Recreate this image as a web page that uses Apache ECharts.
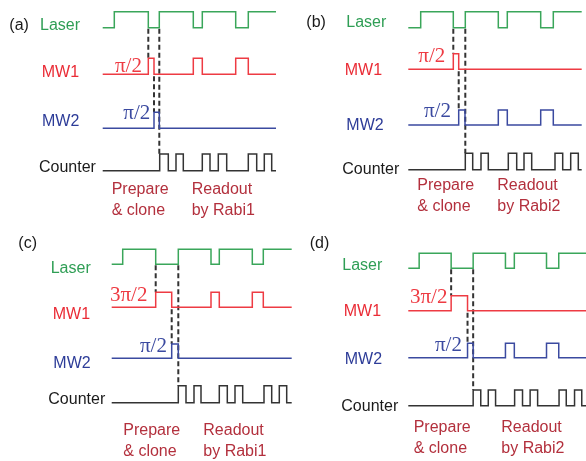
<!DOCTYPE html>
<html><head><meta charset="utf-8">
<script src="https://cdn.jsdelivr.net/npm/echarts@6/dist/echarts.min.js"></script>
<style>html,body{margin:0;padding:0;background:#fff}#c{width:586px;height:461px}</style>
</head><body><div id="c"></div>
<script>
// ---------- DATA (time units; high intervals [start,end]) ----------
const panelNames = ['(a)', '(b)', '(c)', '(d)'];
const channelNames = ['Laser', 'MW1', 'MW2', 'Counter'];
const durations = [173.3, 173.4, 180, 180];

const laserA = [[11.6, 45.6], [56.6, 90.6], [99.6, 133], [145.6, 173.3]];
const mw1A = [[45.6, 51.3], [90.6, 99.6], [133, 145.6]];
const mw2A = [[51.3, 56.6]];
const counterA = [[57, 65.6], [73.3, 80.6], [99.6, 107.3], [115.6, 124], [145.6, 154], [161.6, 169]];

const laserB = [[12.4, 45], [57, 90], [99, 132.4], [145, 173.4]];
const mw1B = [[45, 50.4]];
const mw2B = [[50.4, 56.7], [90, 99], [132.4, 145]];
const counterB = [[57, 64.4], [72.7, 80], [100, 108.4], [115.7, 123.4], [146.7, 154.4], [162.4, 170]];

const laserC = [[11, 44], [66.6, 99.3], [107.6, 140.6], [151.6, 180]];
const mw1C = [[44, 60], [99.3, 107.6], [140.6, 151.6]];
const mw2C = [[60, 66.6]];
const counterC = [[66.6, 74.3], [82.3, 89.3], [107.6, 115.6], [123.3, 131], [152.3, 160], [167.6, 175]];

const laserD = [[11, 43.4], [65.7, 98.4], [107.4, 140], [152.4, 180]];
const mw1D = [[43.4, 60]];
const mw2D = [[60, 65.7], [98.4, 107.4], [140, 152.4]];
const counterD = [[65.7, 73.4], [81, 88.4], [107.7, 115.7], [123.4, 131], [152.7, 160], [168.4, 175.7]];

const mw1PulseLabels = ['π/2', 'π/2', '3π/2', '3π/2'];
const mw2PulseLabels = ['π/2', 'π/2', 'π/2', 'π/2'];
const captionPrepare = ['Prepare\n& clone', 'Prepare\n& clone', 'Prepare\n& clone', 'Prepare\n& clone'];
const captionReadout = ['Readout\nby Rabi1', 'Readout\nby Rabi2', 'Readout\nby Rabi1', 'Readout\nby Rabi2'];

// ---------- LAYOUT (positions / styles) ----------
const panels = [
  { ch: [laserA, mw1A, mw2A, counterA], x0: 102.7,
    rows: [[27.7, 11.7], [74.3, 58.3], [128.3, 112.3], [170.7, 154]],
    letter: [9.3, 25.5], names: [[40, 25.5], [41.7, 72.7], [42, 121.2], [39, 167.7]],
    p1: [115, 66.7], p2: [123.3, 113.3], capL: [111.7, 189.4], capR: [191.7, 189.4] },
  { ch: [laserB, mw1B, mw2B, counterB], x0: 408.3,
    rows: [[27.7, 11.7], [69.3, 53.8], [125, 110], [169.7, 153.3]],
    letter: [306.3, 22.5], names: [[346.3, 22.5], [344.7, 70.8], [346.3, 125.8], [342.3, 170]],
    p1: [418.3, 56.2], p2: [424, 111.7], capL: [417.3, 185.2], capR: [497.3, 185.2] },
  { ch: [laserC, mw1C, mw2C, counterC], x0: 111.7,
    rows: [[264.3, 249.3], [307.3, 292.3], [358.3, 344], [402.7, 385.7]],
    letter: [18.3, 243.5], names: [[50.7, 268.3], [52.7, 315], [53.3, 364], [48.3, 399.3]],
    p1: [110, 295.8], p2: [140, 346.7], capL: [123.3, 430.8], capR: [203.3, 430.8] },
  { ch: [laserD, mw1D, mw2D, counterD], x0: 408.3,
    rows: [[268.3, 253.3], [310.7, 295.7], [357.7, 343.3], [405.7, 390]],
    letter: [309.7, 244], names: [[342.3, 265.2], [343.7, 311.7], [344.7, 360], [341.3, 407]],
    p1: [410, 297.5], p2: [435, 345.8], capL: [413.7, 427.8], capR: [501.3, 427.8] }
];
const lineColors = ['#3aa65a', '#ee3b43', '#3b4aa0', '#333333'];
const textColors = ['#2f9e55', '#ea2c36', '#2d3c98', '#1a1a1a'];
const captionColor = '#b3303d';
const sans = "'Liberation Sans', Arial, sans-serif";
const serif = "'Liberation Serif', 'Times New Roman', serif";

function stepPoints(intervals, D, base, high) {
  const pts = [[0, base]];
  for (const [s, e] of intervals) {
    pts.push([s, base], [s, high]);
    if (e >= D) { pts.push([D, high]); return pts; }
    pts.push([e, high], [e, base]);
  }
  pts.push([D, base]);
  return pts;
}

const grid = [], xAxis = [], yAxis = [], series = [], graphic = [];
panels.forEach((p, i) => {
  const D = durations[i];
  grid.push({ left: p.x0, top: 0, width: D, height: 461 });
  xAxis.push({ gridIndex: i, type: 'value', min: 0, max: D, show: false });
  yAxis.push({ gridIndex: i, type: 'value', min: 0, max: 461, inverse: true, show: false });
  // dashed timing markers
  const tA = p.ch[1][0][0], tB = p.ch[2][0][0], tC = p.ch[0][1][0];
  const dashes = [[tA, p.rows[0][0] + 1, p.rows[1][1]], [tB, p.rows[1][0] + 2, p.rows[2][1]], [tC, p.rows[0][0] + 1, p.rows[3][1]]];
  dashes.forEach(([t, y1, y2]) => {
    series.push({ type: 'line', xAxisIndex: i, yAxisIndex: i, data: [[t, y1], [t, y2]],
      showSymbol: false, symbol: 'none', silent: true, clip: false, animation: false, z: 1,
      lineStyle: { color: '#333', width: 2, type: [5, 3] } });
  });
  p.ch.forEach((iv, j) => {
    series.push({ type: 'line', xAxisIndex: i, yAxisIndex: i,
      data: stepPoints(iv, D, p.rows[j][0], p.rows[j][1]),
      showSymbol: false, symbol: 'none', silent: true, clip: false, animation: false, z: 2,
      lineStyle: { color: lineColors[j], width: 1.5, join: 'miter' } });
  });
  graphic.push({ type: 'text', x: p.letter[0], y: p.letter[1],
    style: { text: panelNames[i], fill: '#1a1a1a', font: '16px ' + sans, align: 'left', verticalAlign: 'middle' } });
  channelNames.forEach((n, j) => {
    graphic.push({ type: 'text', x: p.names[j][0], y: p.names[j][1],
      style: { text: n, fill: textColors[j], font: '16px ' + sans, align: 'left', verticalAlign: 'middle' } });
  });
  graphic.push({ type: 'text', x: p.p1[0], y: p.p1[1],
    style: { text: mw1PulseLabels[i], fill: lineColors[1], font: '21px ' + serif, align: 'left', verticalAlign: 'middle' } });
  graphic.push({ type: 'text', x: p.p2[0], y: p.p2[1],
    style: { text: mw2PulseLabels[i], fill: lineColors[2], font: '21px ' + serif, align: 'left', verticalAlign: 'middle' } });
  graphic.push({ type: 'text', x: p.capL[0], y: p.capL[1] - 10.5,
    style: { text: captionPrepare[i], fill: captionColor, font: '16px ' + sans, lineHeight: 21, align: 'left', verticalAlign: 'top' } });
  graphic.push({ type: 'text', x: p.capR[0], y: p.capR[1] - 10.5,
    style: { text: captionReadout[i], fill: captionColor, font: '16px ' + sans, lineHeight: 21, align: 'left', verticalAlign: 'top' } });
});

const chart = echarts.init(document.getElementById('c'), null, { renderer: 'canvas' });
chart.setOption({ backgroundColor: '#fff', animation: false, grid, xAxis, yAxis, series, graphic });
</script></body></html>
